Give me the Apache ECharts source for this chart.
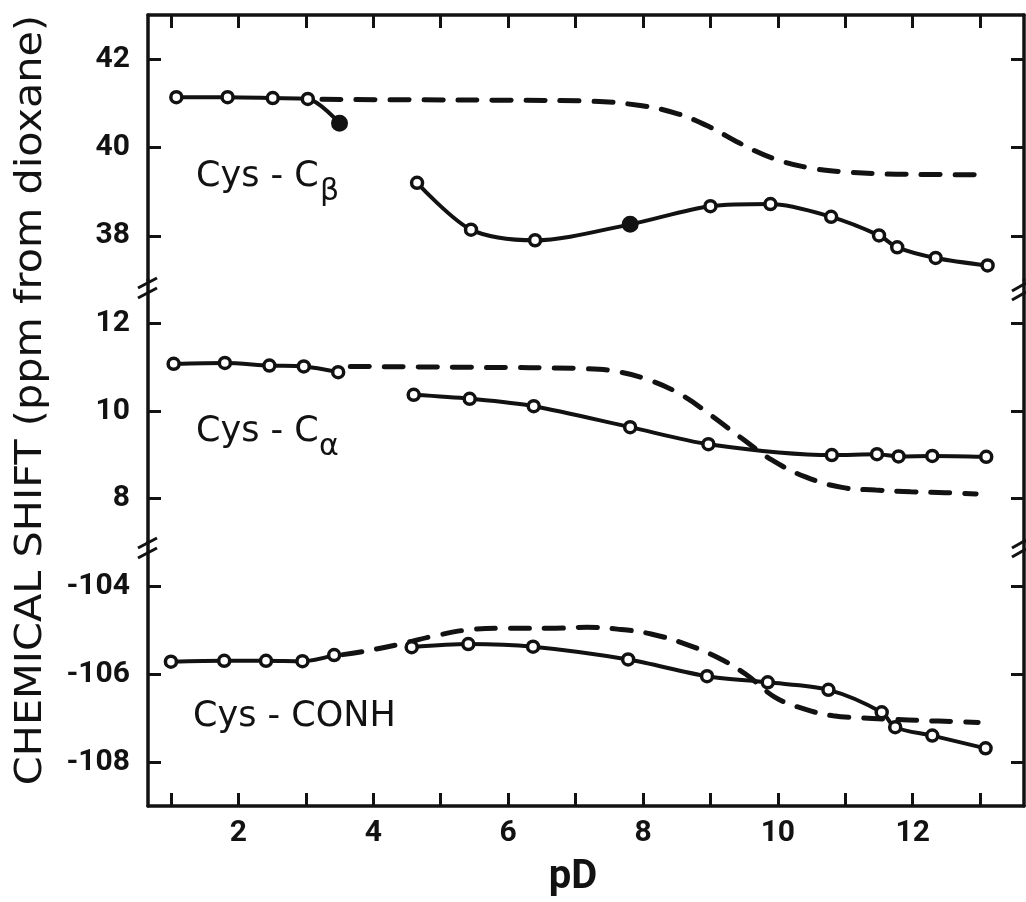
<!DOCTYPE html>
<html>
<head>
<meta charset="utf-8">
<title>Cys chemical shift vs pD</title>
<script src="https://cdn.jsdelivr.net/npm/echarts@6/dist/echarts.min.js"></script>
<style>
  html, body { margin: 0; padding: 0; background: #fff; }
  #chart { width: 1026px; height: 902px; }
</style>
</head>
<body>
<div id="chart"></div>
<script>
// ---- axes ----
var pdTicks = [1, 2, 3, 4, 5, 6, 7, 8, 9, 10, 11, 12, 13];
var pdLabels = [2, 4, 6, 8, 10, 12];
var cbTicks = [38, 40, 42];
var caTicks = [8, 10, 12];
var conhTicks = [-108, -106, -104];

// ---- Cys-C beta ----
var cbAcidPd = [1.08, 1.84, 2.51, 3.03, 3.50];
var cbAcidShift = [41.14, 41.14, 41.12, 41.10, 40.55];
var cbBasePd = [4.65, 5.45, 6.40, 7.81, 9.00, 9.89, 10.79, 11.50, 11.77, 12.34, 13.11];
var cbBaseShift = [39.20, 38.14, 37.90, 38.26, 38.67, 38.72, 38.43, 38.01, 37.74, 37.50, 37.33];
var cbDashPd = [3.24, 4.5, 6.0, 7.22, 7.96, 8.48, 8.97, 9.43, 9.92, 10.50, 11.07, 11.62, 12.16, 13.12];
var cbDashShift = [41.09, 41.08, 41.07, 41.05, 40.95, 40.78, 40.48, 40.10, 39.76, 39.53, 39.44, 39.40, 39.39, 39.38];
var cbFilledPd = [3.50, 7.81];

// ---- Cys-C alpha ----
var caAcidPd = [1.04, 1.80, 2.46, 2.97, 3.48];
var caAcidShift = [11.08, 11.10, 11.04, 11.02, 10.89];
var caBasePd = [4.60, 5.43, 6.38, 7.81, 8.97, 10.80, 11.47, 11.79, 12.29, 13.09];
var caBaseShift = [10.37, 10.28, 10.11, 9.63, 9.24, 8.99, 9.01, 8.96, 8.97, 8.95];
var caDashPd = [3.66, 5.5, 7.15, 7.59, 8.11, 8.58, 9.01, 9.46, 9.91, 10.41, 10.95, 11.45, 11.97, 12.48, 12.94];
var caDashShift = [11.02, 11.00, 10.97, 10.91, 10.70, 10.36, 9.90, 9.38, 8.88, 8.49, 8.25, 8.19, 8.15, 8.13, 8.10];

// ---- Cys-CONH ----
var conhAcidPd = [1.00, 1.79, 2.41, 2.95, 3.42];
var conhAcidShift = [-105.72, -105.70, -105.70, -105.71, -105.57];
var conhBasePd = [4.57, 5.41, 6.37, 7.78, 8.95, 9.85, 10.75, 11.54, 11.74, 12.29, 13.08];
var conhBaseShift = [-105.39, -105.32, -105.38, -105.67, -106.05, -106.19, -106.36, -106.87, -107.21, -107.40, -107.69];
var conhDashPd = [3.55, 3.81, 4.34, 4.92, 5.45, 6.0, 6.7, 7.17, 7.62, 8.12, 8.63, 9.10, 9.52, 9.96, 10.40, 10.82, 11.27, 11.7, 12.17, 12.60, 12.97];
var conhDashShift = [-105.56, -105.50, -105.34, -105.13, -104.99, -104.96, -104.96, -104.94, -104.98, -105.09, -105.32, -105.62, -106.00, -106.53, -106.80, -106.95, -107.00, -107.03, -107.06, -107.08, -107.10];

var INK = '#121212';
var NUM_FONT = 'Roboto, "DejaVu Sans", sans-serif';
var TXT_FONT = '"DejaVu Sans", sans-serif';

function points(xs, ys, filled) {
  return xs.map(function (x, i) {
    var item = { value: [x, ys[i]] };
    if (filled && filled.indexOf(x) >= 0) {
      item.symbolSize = 15;
      item.itemStyle = { color: INK, borderColor: INK, borderWidth: 2 };
    }
    return item;
  });
}

function solid(xs, ys, g, filled) {
  return {
    type: 'line', xAxisIndex: g, yAxisIndex: g * 2,
    data: points(xs, ys, filled),
    smooth: 0.3,
    symbol: 'circle', symbolSize: 11,
    lineStyle: { color: INK, width: 4 },
    itemStyle: { color: '#fff', borderColor: INK, borderWidth: 3.5 },
    silent: true, z: 3
  };
}

function dashed(xs, ys, g) {
  return {
    type: 'line', xAxisIndex: g, yAxisIndex: g * 2,
    data: points(xs, ys),
    smooth: 0.4, symbol: 'none',
    lineStyle: { color: INK, width: 5, type: [19, 15], cap: 'round' },
    silent: true, z: 2
  };
}

var frameLine = { show: true, onZero: false, lineStyle: { color: INK, width: 3.5 } };
var tickStyle = { color: INK, width: 3 };

function xAxis(g, pos, labels) {
  return {
    type: 'value', gridIndex: g, position: pos, min: 0.66, max: 13.65,
    show: pos !== null,
    axisLine: frameLine,
    axisTick: { show: true, inside: true, length: 13, lineStyle: tickStyle, customValues: pdTicks },
    axisLabel: labels ? {
      show: true, customValues: pdLabels, margin: 12,
      color: INK, fontSize: 30, fontWeight: 'bold', fontFamily: NUM_FONT
    } : { show: false },
    splitLine: { show: false }
  };
}

function yAxis(g, min, ticks, side) {
  return {
    type: 'value', gridIndex: g, position: side, min: min, max: min + 6,
    axisLine: frameLine,
    axisTick: { show: true, inside: true, length: 13, lineStyle: tickStyle, customValues: ticks },
    axisLabel: side === 'left' ? {
      show: true, customValues: ticks, margin: 18,
      color: INK, fontSize: 30, fontWeight: 'bold', fontFamily: NUM_FONT
    } : { show: false },
    splitLine: { show: false }
  };
}

function label(text, x, y, size) {
  return {
    type: 'text', x: x, y: y, silent: true,
    style: {
      text: text, fill: INK, fontSize: size, fontFamily: TXT_FONT,
      textAlign: 'left', textVerticalAlign: 'middle', align: 'left', verticalAlign: 'middle'
    }
  };
}

function brk(x1, y1, x2, y2) {
  return {
    type: 'line', silent: true, z: 10,
    shape: { x1: x1, y1: y1, x2: x2, y2: y2 },
    style: { stroke: INK, lineWidth: 3 }
  };
}

var chart = echarts.init(document.getElementById('chart'), null, { renderer: 'canvas' });

chart.setOption({
  backgroundColor: '#fff',
  animation: false,
  grid: [
    { left: 148, right: 2, top: 15, height: 265 },
    { left: 148, right: 2, top: 280, height: 262 },
    { left: 148, right: 2, top: 542, height: 264 }
  ],
  xAxis: [xAxis(0, 'top', false), xAxis(1, null, false), xAxis(2, 'bottom', true)],
  yAxis: [
    yAxis(0, 37, cbTicks, 'left'), yAxis(0, 37, cbTicks, 'right'),
    yAxis(1, 7, caTicks, 'left'), yAxis(1, 7, caTicks, 'right'),
    yAxis(2, -109, conhTicks, 'left'), yAxis(2, -109, conhTicks, 'right')
  ],
  series: [
    dashed(cbDashPd, cbDashShift, 0),
    solid(cbAcidPd, cbAcidShift, 0, cbFilledPd),
    solid(cbBasePd, cbBaseShift, 0, cbFilledPd),
    dashed(caDashPd, caDashShift, 1),
    solid(caAcidPd, caAcidShift, 1),
    solid(caBasePd, caBaseShift, 1),
    dashed(conhDashPd, conhDashShift, 2),
    solid(conhAcidPd, conhAcidShift, 2),
    solid(conhBasePd, conhBaseShift, 2)
  ],
  graphic: [
    // axis titles
    {
      type: 'text', x: 31, y: 400, rotation: Math.PI / 2, scaleX: 1.09, silent: true,
      style: {
        text: 'CHEMICAL SHIFT (ppm from dioxane)', fill: INK, fontSize: 38, fontFamily: TXT_FONT,
        textAlign: 'center', textVerticalAlign: 'middle', align: 'center', verticalAlign: 'middle'
      }
    },
    {
      type: 'text', x: 573, y: 878, silent: true,
      style: {
        text: 'pD', fill: INK, fontSize: 40, fontWeight: 'bold', fontFamily: NUM_FONT,
        textAlign: 'center', textVerticalAlign: 'middle', align: 'center', verticalAlign: 'middle'
      }
    },
    // panel labels
    label('Cys - C', 196, 177, 35),
    label('\u03b2', 320, 192, 30),
    label('Cys - C', 196, 432, 35),
    label('\u03b1', 319, 447, 30),
    label('Cys - CONH', 193, 717, 35),
    // axis breaks
    brk(138, 288, 157, 278), brk(138, 298, 157, 288),
    brk(138, 548, 157, 538), brk(138, 558, 157, 548),
    brk(1012, 291, 1026, 283), brk(1012, 300, 1026, 292),
    brk(1012, 548, 1026, 540), brk(1012, 557, 1026, 549)
  ]
});
</script>
</body>
</html>
